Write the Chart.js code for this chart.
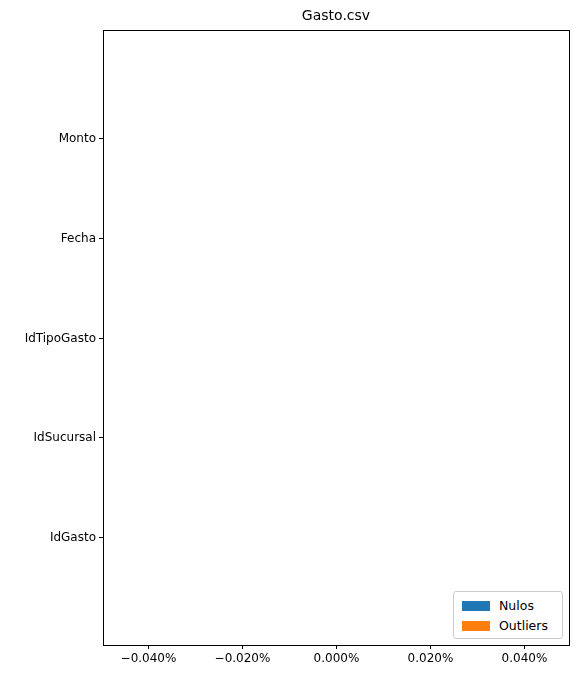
<!DOCTYPE html>
<html><head><meta charset="utf-8">
<script src="https://cdn.jsdelivr.net/npm/chart.js@4"></script>
<style>body{margin:0;background:#fff}#legend{position:absolute;left:453px;top:591px;width:108px;height:46px;border:1px solid #ccc;border-radius:3px;background:#fff;font:12.5px "DejaVu Sans";}
.it{position:absolute;left:8px;display:flex;align-items:center}.sw{width:28px;height:10px;margin-right:9px}</style>
</head><body>
<canvas id="c" width="577" height="680"></canvas>
<div id="legend"><div class="it" style="top:6px"><div class="sw" style="background:#1f77b4"></div>Nulos</div><div class="it" style="top:26px"><div class="sw" style="background:#ff7f0e"></div>Outliers</div></div>
<script>
const categories=["Monto","Fecha","IdTipoGasto","IdSucursal","IdGasto"];
const nulos=[0,0,0,0,0];
const outliers=[0,0,0,0,0];
const xTicks=[-0.04,-0.02,0,0.02,0.04];
const F='"DejaVu Sans"';
const deco={id:'d',afterDraw(ch){const a=ch.chartArea,c=ch.ctx,x=ch.scales.x,y=ch.scales.y;c.save();
c.font='14px '+F;c.fillStyle='#000';c.textAlign='center';c.textBaseline='middle';c.fillText('Gasto.csv',(a.left+a.right)/2,16);
c.strokeStyle='#000';c.lineWidth=1;c.strokeRect(Math.round(a.left)+0.5,Math.round(a.top)+0.5,Math.round(a.right-a.left),Math.round(a.bottom-a.top));
c.font='12px '+F;c.textAlign='right';
categories.forEach((n,i)=>{const py=Math.round(y.getPixelForValue(i))+0.5;c.beginPath();c.moveTo(a.left-4,py);c.lineTo(a.left,py);c.stroke();c.fillText(n,a.left-7,py);});
c.textAlign='center';c.textBaseline='top';
xTicks.forEach(v=>{const px=Math.round(x.getPixelForValue(v))+0.5;c.beginPath();c.moveTo(px,a.bottom);c.lineTo(px,a.bottom+4);c.stroke();c.fillText((v<0?'\u2212':'')+Math.abs(v).toFixed(3)+'%',px,a.bottom+8);});
c.restore();}};
new Chart(document.getElementById('c'),{type:'bar',
data:{datasets:[
{label:'Nulos',data:nulos.map((v,i)=>({x:v,y:i+0.2})),backgroundColor:'#1f77b4',barThickness:30,inflateAmount:0,borderWidth:0},
{label:'Outliers',data:outliers.map((v,i)=>({x:v,y:i-0.2})),backgroundColor:'#ff7f0e',barThickness:30,inflateAmount:0,borderWidth:0}]},
options:{responsive:false,animation:false,indexAxis:'y',layout:{padding:{top:30,right:8,left:103,bottom:35}},
plugins:{legend:{display:false},tooltip:{enabled:false}},
scales:{
x:{type:'linear',min:-0.0495,max:0.0495,display:false},
y:{type:'linear',reverse:true,min:-0.64,max:4.64,display:false}}},
plugins:[deco]});
</script></body></html>
